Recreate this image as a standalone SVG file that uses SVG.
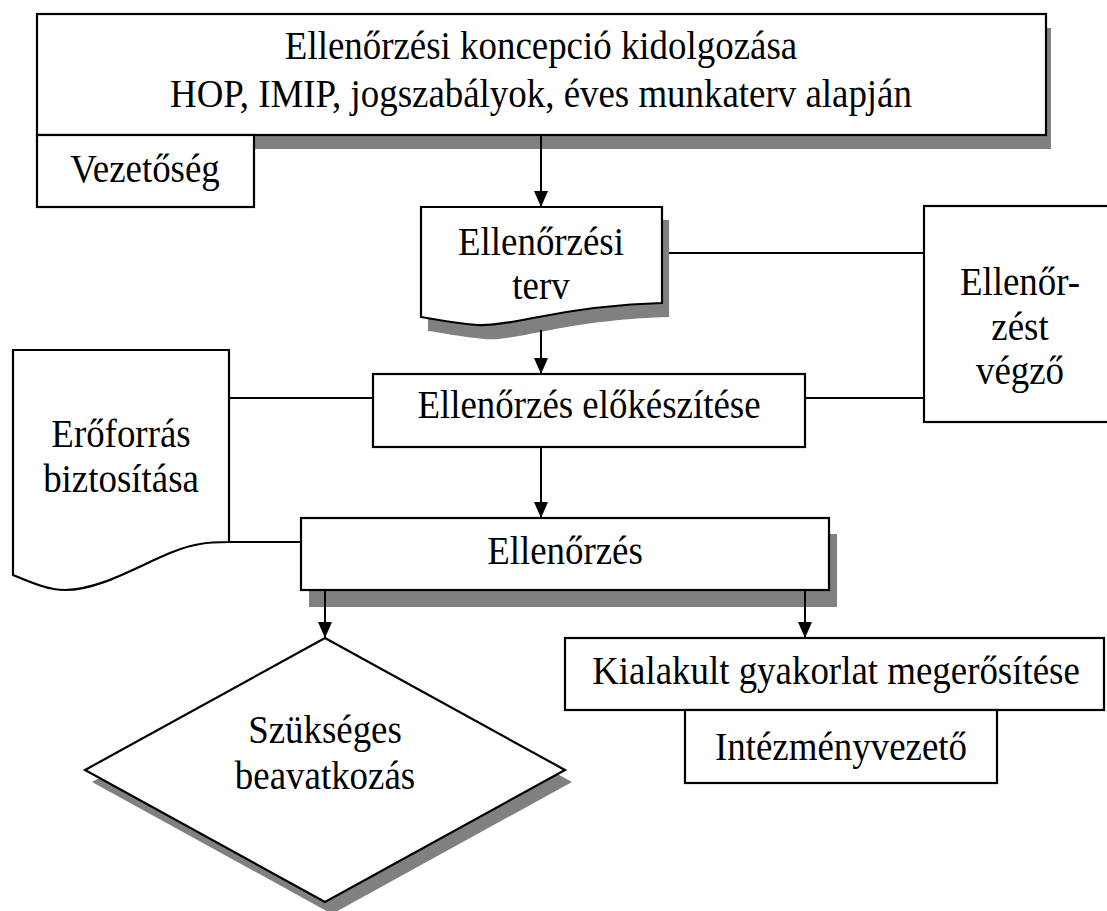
<svg xmlns="http://www.w3.org/2000/svg" width="1107" height="911" viewBox="0 0 1107 911">
  <defs>
    <marker id="arrow" markerUnits="userSpaceOnUse" markerWidth="16" markerHeight="16" viewBox="0 0 16 16" refX="16" refY="8" orient="auto">
      <path d="M0,1 L16,8 L0,15 Z" fill="#000"/>
    </marker>
  </defs>
  <style>
    .box { fill: #fff; stroke: #000; stroke-width: 2.2; }
    .shadow { fill: #808080; stroke: none; }
    .lbl { font-family: "Liberation Serif", "Times New Roman", serif; font-size: 41px; fill: #000; text-anchor: middle; }
    .link { fill: none; stroke: #000; stroke-width: 1.8; }
    .flow { fill: none; stroke: #000; stroke-width: 2; marker-end: url(#arrow); }
  </style>

  <rect width="1107" height="911" fill="#fff"/>

  <!-- Concept development -->
  <g id="koncepcio">
    <rect class="shadow" x="42" y="28" width="1009" height="121"/>
    <rect class="box" x="37" y="14" width="1009" height="121"/>
    <text class="lbl" transform="translate(541,59) scale(0.9,1)">Ellenőrzési koncepció kidolgozása</text>
    <text class="lbl" transform="translate(541,107) scale(0.9,1)">HOP, IMIP, jogszabályok, éves munkaterv alapján</text>
  </g>

  <!-- Management -->
  <g id="vezetoseg">
    <rect class="box" x="37" y="135" width="217" height="72"/>
    <text class="lbl" transform="translate(145,182) scale(0.9,1)">Vezetőség</text>
  </g>

  <!-- Audit plan (document) -->
  <g id="terv">
    <path class="shadow" d="M428,220 H669 V317 C630,318 590,322 540,332 C510,338 495,340 484,339 C460,337 440,332 428,331 Z"/>
    <path class="box" d="M421,207 H662 V303 C623,304 583,308 533,318 C503,324 488,326 477,325 C453,323 433,319 421,317 Z"/>
    <text class="lbl" transform="translate(541,255) scale(0.9,1)">Ellenőrzési</text>
    <text class="lbl" transform="translate(541,299) scale(0.9,1)">terv</text>
  </g>

  <!-- Auditor -->
  <g id="vegzo">
    <rect class="box" x="924" y="206" width="190" height="216"/>
    <text class="lbl" transform="translate(1020,295) scale(0.9,1)">Ellenőr-</text>
    <text class="lbl" transform="translate(1020,340) scale(0.9,1)">zést</text>
    <text class="lbl" transform="translate(1020,384) scale(0.9,1)">végző</text>
  </g>

  <!-- Preparation -->
  <g id="elokeszites">
    <rect class="box" x="373" y="374" width="432" height="73"/>
    <text class="lbl" transform="translate(589,418) scale(0.9,1)">Ellenőrzés előkészítése</text>
  </g>

  <!-- Resources (document) -->
  <g id="eroforras">
    <path class="box" d="M13,350 H229 V542 C215,542 205,543 200,544 C160,550 110,590 65,590 C48,590 30,582 13,575 Z"/>
    <text class="lbl" transform="translate(121,447) scale(0.9,1)">Erőforrás</text>
    <text class="lbl" transform="translate(121,492) scale(0.9,1)">biztosítása</text>
  </g>

  <!-- Audit -->
  <g id="ellenorzes">
    <rect class="shadow" x="309" y="534" width="528" height="73"/>
    <rect class="box" x="301" y="518" width="528" height="72"/>
    <text class="lbl" transform="translate(565,564) scale(0.9,1)">Ellenőrzés</text>
  </g>

  <!-- Intervention decision -->
  <g id="beavatkozas">
    <polygon class="shadow" points="332,650 572,782 332,914 92,782"/>
    <polygon class="box" points="325,638 565,770 325,902 85,770"/>
    <text class="lbl" transform="translate(325,743) scale(0.9,1)">Szükséges</text>
    <text class="lbl" transform="translate(325,789) scale(0.9,1)">beavatkozás</text>
  </g>

  <!-- Confirmation of practice -->
  <g id="megerosites">
    <rect class="box" x="565" y="638" width="539" height="72"/>
    <text class="lbl" transform="translate(836,684) scale(0.9,1)">Kialakult gyakorlat megerősítése</text>
  </g>

  <!-- Head of institution -->
  <g id="intezmenyvezeto">
    <rect class="box" x="685" y="710" width="312" height="73"/>
    <text class="lbl" transform="translate(841,760) scale(0.9,1)">Intézményvezető</text>
  </g>

  <!-- Connectors -->
  <g id="connectors">
    <line class="flow" x1="541" y1="135" x2="541" y2="207"/>
    <line class="flow" x1="541" y1="330" x2="541" y2="374"/>
    <line class="flow" x1="541" y1="447" x2="541" y2="518"/>
    <line class="flow" x1="325" y1="590" x2="325" y2="638"/>
    <line class="flow" x1="805" y1="590" x2="805" y2="638"/>
    <line class="link" x1="669" y1="253" x2="924" y2="253"/>
    <line class="link" x1="805" y1="398" x2="924" y2="398"/>
    <line class="link" x1="229" y1="398" x2="373" y2="398"/>
    <line class="link" x1="229" y1="542" x2="301" y2="542"/>
  </g>
</svg>
